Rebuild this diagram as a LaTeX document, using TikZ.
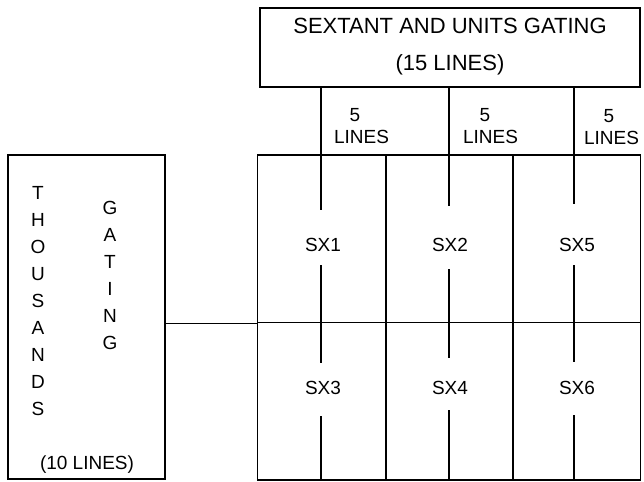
\documentclass[tikz,border=0pt]{standalone}
\usepackage{fontspec}
\setmainfont{Liberation Sans}
\begin{document}
\begin{tikzpicture}[x=1pt,y=-1pt,
  box/.style={draw,line width=1.4pt,inner sep=0pt},
  lbl/.style={font=\fontsize{19}{23}\selectfont,inner sep=0pt},
  ln/.style={line width=1.4pt}]
\useasboundingbox (0,0) rectangle (644,481);
% top box
\node[box,minimum width=380pt,minimum height=79pt] (top) at (450,47.5) {};
\node[inner sep=0pt,align=center,font=\fontsize{22}{37}\selectfont] (topl) at (450,47)
      {SEXTANT AND UNITS GATING\\(15 LINES)};
% grid cells
\node[box,minimum width=128.5pt,minimum height=167.5pt] (c1) at (321.75,238.75) {};
\node[box,minimum width=127pt,minimum height=167.5pt] (c2) at (449.5,238.75) {};
\node[box,minimum width=127.7pt,minimum height=167.5pt] (c5) at (576.85,238.75) {};
\node[box,minimum width=128.5pt,minimum height=157.5pt] (c3) at (321.75,401.25) {};
\node[box,minimum width=127pt,minimum height=157.5pt] (c4) at (449.5,401.25) {};
\node[box,minimum width=127.7pt,minimum height=157.5pt] (c6) at (576.85,401.25) {};
% labels
\node[lbl] (s1) at (323,245) {SX1};
\node[lbl] (s2) at (450,245) {SX2};
\node[lbl] (s5) at (577,245) {SX5};
\node[lbl] (s3) at (323,388) {SX3};
\node[lbl] (s4) at (450,388) {SX4};
\node[lbl] (s6) at (577,388) {SX6};
% line labels
\node[lbl] (f1) at (355,115) {5};
\node[lbl] (n1) at (361.5,137) {LINES};
\node[lbl] (f2) at (485,115) {5};
\node[lbl] (n2) at (490.5,137) {LINES};
\node[lbl] (f3) at (609,116) {5};
\node[lbl] (n3) at (611.5,138) {LINES};
% left box
\node[box,minimum width=157pt,minimum height=324pt] (th) at (86.5,317) {};
\node[lbl,align=center,font=\fontsize{19}{27}\selectfont] (thl) at (38,301)
  {T\\H\\O\\U\\S\\A\\N\\D\\S};
\node[lbl,align=center,font=\fontsize{19}{27}\selectfont] (gl) at (110,275.5)
  {G\\A\\T\\I\\N\\G};
\node[lbl] (tl) at (87,465) {(10 LINES)};
% connectors
\coordinate (a1) at (321,210); \coordinate (a2) at (449,206); \coordinate (a5) at (574,204);
\draw[ln] (top.south -| a1) -- (a1);
\draw[ln] (top.south -| a2) -- (a2);
\draw[ln] (top.south -| a5) -- (a5);
\draw[ln] (321,265) -- (321,363);
\draw[ln] (449,269) -- (449,358);
\draw[ln] (574,265) -- (574,362);
\draw[ln] (321,416) -- (c3.south -| 321,0);
\draw[ln] (449,410) -- (c4.south -| 449,0);
\draw[ln] (574,415) -- (c6.south -| 574,0);
\draw[ln] (th.east |- c1.south west) -- (c1.south west);
\end{tikzpicture}
\end{document}
